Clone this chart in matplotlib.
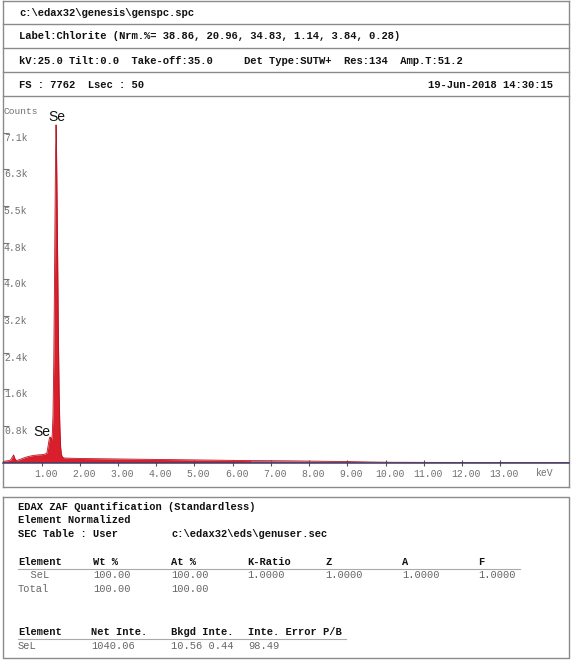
import matplotlib
matplotlib.use("Agg")
import matplotlib.pyplot as plt
import matplotlib.transforms as mtransforms

# --- spectrum (keV, counts) ---
energy_kev = [0.00, 0.05, 0.10, 0.15, 0.20, 0.24, 0.27, 0.30, 0.34, 0.40,
              0.50, 0.60, 0.70, 0.80, 0.90, 1.00, 1.08, 1.14, 1.17, 1.20,
              1.22, 1.24, 1.26, 1.28, 1.30, 1.32, 1.34, 1.36, 1.37, 1.38,
              1.39, 1.40, 1.42, 1.44, 1.46, 1.48, 1.50, 1.52, 1.55, 1.60,
              1.80, 2.00, 2.50, 3.00, 3.50, 4.00, 4.50, 5.00, 5.50, 6.00,
              6.50, 7.00, 7.50, 8.00, 8.50, 9.00, 9.50, 10.0, 11.0, 12.0,
              13.0, 14.0, 14.8]
counts = [20, 30, 35, 40, 60, 120, 160, 90, 40, 55,
          85, 115, 135, 150, 160, 165, 175, 200, 340, 490,
          540, 530, 450, 580, 1000, 2100, 3900, 5900, 6700, 7150,
          6800, 6100, 4500, 2800, 1500, 750, 330, 170, 110, 95,
          90, 85, 80, 75, 70, 65, 60, 55, 50, 45,
          40, 38, 35, 30, 25, 20, 12, 6, 3, 2,
          1, 1, 0]

full_scale = 7762
y_tick_labels = ["0.8k", "1.6k", "2.4k", "3.2k", "4.0k", "4.8k", "5.5k", "6.3k", "7.1k"]
x_ticks = [1, 2, 3, 4, 5, 6, 7, 8, 9, 10, 11, 12, 13]
tail_start = 6.5  # keV, where the trace turns pinkish

file_name = "c:\\edax32\\genesis\\genspc.spc"
label_line = "Label:Chlorite (Nrm.%= 38.86, 20.96, 34.83, 1.14, 3.84, 0.28)"
kv_line = "kV:25.0 Tilt:0.0  Take-off:35.0     Det Type:SUTW+  Res:134  Amp.T:51.2"
fs_line = "FS : 7762  Lsec : 50"
date_line = "19-Jun-2018 14:30:15"

quant_cols = ["Element", "Wt %", "At %", "K-Ratio", "Z", "A", "F"]
quant_rows = [["  SeL", "100.00", "100.00", "1.0000", "1.0000", "1.0000", "1.0000"],
              ["Total", "100.00", "100.00"]]
inte_cols = ["Element", "Net Inte.", "Bkgd Inte.", "Inte. Error P/B"]
inte_rows = [["SeL", "1040.06", "10.56 0.44", "98.49"]]

MONO = "Liberation Mono"
RED = "#d91f2b"

fig = plt.figure(figsize=(5.72, 6.6), dpi=100)

# page overlay in pixel coordinates
bg = fig.add_axes([0, 0, 1, 1])
bg.set_xlim(0, 572)
bg.set_ylim(660, 0)
bg.axis("off")

box = dict(color="#8a8a8a", lw=1.0)
for y in [1, 23.5, 48, 72, 95.5, 486.5]:
    bg.plot([2.5, 568.5], [y, y], **box)
bg.plot([2.5, 2.5], [1, 486.5], **box)
bg.plot([568.5, 568.5], [1, 486.5], **box)
# table box
bg.plot([3, 569, 569, 3, 3], [497, 497, 658, 658, 497], **box)

head = dict(family=MONO, fontsize=7.6, fontweight="bold", color="#111", va="center")
bg.text(19, 12.5, file_name, **head)
bg.text(19, 36, label_line, **head)
bg.text(19, 61, kv_line, **head)
bg.text(19, 85, fs_line, **head)
bg.text(553, 85, date_line, ha="right", **head)

# --- spectrum axes ---
ax = fig.add_axes([2.5 / 572, (660 - 462.5) / 660, 566 / 572, (462.5 - 96) / 660])
ax.patch.set_alpha(0)
main = [e <= tail_start for e in energy_kev]
tail = [e >= tail_start for e in energy_kev]
ax.fill_between(energy_kev, counts, where=main, color=RED, lw=0, zorder=2)
ax.fill_between(energy_kev, counts, where=tail, color="#b94a6e", lw=0, zorder=2)
ax.plot(energy_kev, counts, color="#b8141f", lw=0.6, zorder=3)
ax.set_xlim(-0.02, 14.78)
ax.set_ylim(0, full_scale)

for side in ["left", "right", "top"]:
    ax.spines[side].set_visible(False)
ax.spines["bottom"].set_color("#3d3d6b")
ax.spines["bottom"].set_linewidth(1.1)
ax.spines["bottom"].set_zorder(4)

ax.set_xticks(x_ticks)
ax.set_xticklabels([f"{v:.2f}" for v in x_ticks], family=MONO, fontsize=7, color="#707070")
ax.tick_params(axis="x", direction="inout", length=5, width=0.8, color="#555", pad=2.5)
dx = mtransforms.ScaledTranslation(4 / 100, 0, fig.dpi_scale_trans)
for lab in ax.get_xticklabels():
    lab.set_transform(lab.get_transform() + dx)

ax.set_yticks([full_scale / 10 * (i + 1) for i in range(len(y_tick_labels))])
ax.set_yticklabels(y_tick_labels, family=MONO, fontsize=7, color="#707070")
ax.tick_params(axis="y", direction="in", length=4, width=0.8, color="#777", pad=-1)
dy = mtransforms.ScaledTranslation(0, -4 / 100, fig.dpi_scale_trans)
for lab in ax.get_yticklabels():
    lab.set_ha("left")
    lab.set_transform(lab.get_transform() + dy)

bg.text(3, 112, "Counts", family=MONO, fontsize=6.8, color="#707070", va="center")
bg.text(545, 473, "keV", family=MONO, fontsize=7, color="#707070", ha="center", va="center")

se = dict(family="Liberation Sans", fontsize=10, color="#111", va="center")
ax.text(1.18, 7320, "Se", **se)
ax.text(0.79, 636, "Se", **se)

# --- quantification table ---
bold = dict(family=MONO, fontsize=7.5, fontweight="bold", color="#111", va="center")
norm = dict(family=MONO, fontsize=7.5, color="#666", va="center")
col_x = [18, 93, 171, 247, 325, 402, 478]

bg.text(18, 507, "EDAX ZAF Quantification (Standardless)", **bold)
bg.text(18, 520, "Element Normalized", **bold)
bg.text(18, 534, "SEC Table : User", **bold)
bg.text(171, 534, "c:\\edax32\\eds\\genuser.sec", **bold)

for x, c in zip(col_x, quant_cols):
    bg.text(x, 562, c, **bold)
bg.plot([18, 520], [568.5, 568.5], color="#aaa", lw=0.8)
for r, row in enumerate(quant_rows):
    for x, v in zip(col_x, row):
        bg.text(x, 575 + 14 * r, v, **norm)

inte_x = [18, 91, 171, 248]
for x, c in zip(inte_x, inte_cols):
    bg.text(x, 632, c, **bold)
bg.plot([18, 346], [639, 639], color="#aaa", lw=0.8)
for r, row in enumerate(inte_rows):
    for x, v in zip(inte_x, row):
        bg.text(x, 646 + 14 * r, v, **norm)

fig.savefig("out.png", dpi=100)
